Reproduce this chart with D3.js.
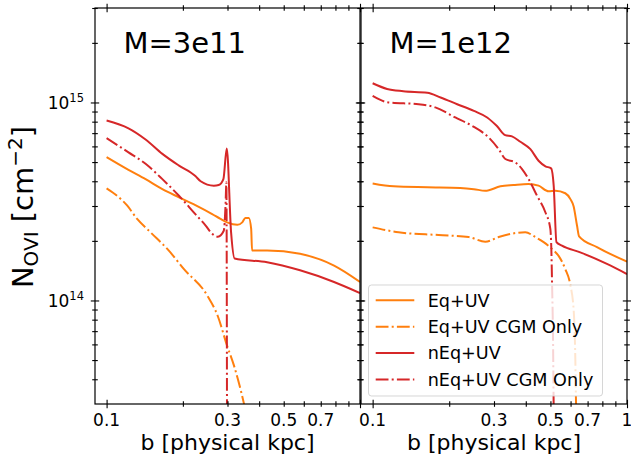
<!DOCTYPE html>
<html>
<head>
<meta charset="utf-8">
<script src="https://cdn.jsdelivr.net/npm/d3@7"></script>
<style>
body { margin: 0; background: #fff; }
svg { font-family: "DejaVu Sans", sans-serif; }
</style>
</head>
<body>
<svg id="chart" width="631" height="460"></svg>
<script>
/////////////////////////////////////////////////
///////////////////Data//////////////////////////
/////////////////////////////////////////////////

// M=3e11
var b_3e11_eq = [0.1, 0.122, 0.1425, 0.166, 0.193, 0.224, 0.261, 0.2815, 0.299, 0.328, 0.343, 0.353, 0.364, 0.372, 0.375, 0.43, 0.58, 0.79, 1.0];
var N_3e11_eq = [5.3e14, 4.57e14, 4.1e14, 3.65e14, 3.32e14, 3.03e14, 2.73e14, 2.58e14, 2.48e14, 2.41e14, 2.48e14, 2.61e14, 2.61e14, 2.30e14, 1.79e14, 1.79e14, 1.72e14, 1.5e14, 1.24e14];

var b_3e11_eq_cgm = [0.1, 0.1207, 0.132, 0.149, 0.175, 0.202, 0.2495, 0.275, 0.299, 0.318, 0.348, 0.355];
var N_3e11_eq_cgm = [3.68e14, 3.01e14, 2.58e14, 2.21e14, 1.8e14, 1.44e14, 1.06e14, 8.3e13, 5.9e13, 4.7e13, 3.03e13, 2.7e13];

var b_3e11_neq = [0.1, 0.122, 0.1425, 0.166, 0.193, 0.224, 0.235, 0.265, 0.277, 0.289, 0.298, 0.310, 0.320, 0.43, 0.58, 0.79, 1.0];
var N_3e11_neq = [8.1e14, 7.4e14, 6.5e14, 5.5e14, 4.8e14, 4.25e14, 4.0e14, 3.8e14, 3.83e14, 4.1e14, 5.86e14, 2.2e14, 1.63e14, 1.56e14, 1.42e14, 1.24e14, 1.09e14];

var b_3e11_neq_cgm = [0.1, 0.122, 0.1425, 0.166, 0.193, 0.224, 0.246, 0.261, 0.275, 0.290, 0.2946, 0.297, 0.299];
var N_3e11_neq_cgm = [6.6e14, 5.6e14, 4.9e14, 4.1e14, 3.38e14, 2.73e14, 2.39e14, 2.17e14, 2.1e14, 2.25e14, 3.0e14, 3.95e14, 1e13];

// M=1e12
var b_1e12_eq = [0.1, 0.121, 0.164, 0.221, 0.25, 0.277, 0.318, 0.358, 0.41, 0.449, 0.492, 0.523, 0.572, 0.599, 0.617, 0.636, 0.648, 0.762, 1.0];
var N_1e12_eq = [3.9e14, 3.77e14, 3.73e14, 3.70e14, 3.65e14, 3.58e14, 3.77e14, 3.83e14, 3.88e14, 3.80e14, 3.56e14, 3.58e14, 3.48e14, 3.25e14, 2.98e14, 2.39e14, 2.11e14, 1.86e14, 1.57e14];

var b_1e12_eq_cgm = [0.1, 0.1265, 0.1817, 0.2385, 0.2773, 0.313, 0.3639, 0.3983, 0.4361, 0.4701, 0.5073, 0.5384, 0.5721, 0.5986, 0.6168, 0.6263, 0.6303, 0.634];
var N_1e12_eq_cgm = [2.34e14, 2.21e14, 2.14e14, 2.09e14, 1.98e14, 2.09e14, 2.19e14, 2.21e14, 2.09e14, 1.97e14, 1.82e14, 1.68e14, 1.44e14, 1.2e14, 9e13, 5.1e13, 3.07e13, 2.5e13];

var b_1e12_neq = [0.1, 0.114, 0.132, 0.164, 0.185, 0.215, 0.25, 0.282, 0.308, 0.332, 0.353, 0.381, 0.417, 0.449, 0.478, 0.503, 0.515, 0.528, 0.555, 0.655, 0.834, 1.0];
var N_1e12_neq = [1.25e15, 1.17e15, 1.14e15, 1.12e15, 1.06e15, 9.8e14, 9.07e14, 8.4e14, 7.6e14, 6.84e14, 6.74e14, 6.33e14, 5.81e14, 5.08e14, 4.76e14, 4.65e14, 3.8e14, 1.97e14, 1.89e14, 1.75e14, 1.53e14, 1.36e14];

var b_1e12_neq_cgm = [0.1, 0.1156, 0.1516, 0.1764, 0.2114, 0.2459, 0.2858, 0.313, 0.3324, 0.3639, 0.3867, 0.4104, 0.4429, 0.4775, 0.4996, 0.5041, 0.5073, 0.5119, 0.5147, 0.517];
var N_1e12_neq_cgm = [1.08e15, 1.0e15, 9.8e14, 9.44e14, 8.4e14, 7.62e14, 6.66e14, 5.81e14, 5.18e14, 4.98e14, 4.61e14, 4.1e14, 3.38e14, 2.79e14, 2.3e14, 1.82e14, 1.24e14, 6.4e13, 3.06e13, 2e13];

var seriesLabels = ["Eq+UV", "Eq+UV CGM Only", "nEq+UV", "nEq+UV CGM Only"];
var panelTitles = ["M=3e11", "M=1e12"];

// ticks
var xMajorTicks = [0.1, 1];
var xMinorTicks = [0.2, 0.3, 0.4, 0.5, 0.6, 0.7, 0.8, 0.9];
var xTickLabels = [[0.1, 0.3, 0.5, 0.7], [0.1, 0.3, 0.5, 0.7, 1]];
var yMajorTicks = [1e14, 1e15];
var yMinorTicks = [4e13, 5e13, 6e13, 7e13, 8e13, 9e13, 2e14, 3e14, 4e14, 5e14, 6e14, 7e14, 8e14, 9e14, 2e15, 3e15];
var yTickExp = [14, 15];

/////////////////////////////////////////////////
///////////////////Chart/////////////////////////
/////////////////////////////////////////////////

var top0 = 8, bottom0 = 404;
var colors = ["#ff7f0e", "#ff7f0e", "#d62728", "#d62728"];
var dashes = [null, "12.8,3.2,2,3.2", null, "12.8,3.2,2,3.2"];

var panels = [
  {x0: 95, x1: 360, b: [b_3e11_eq, b_3e11_eq_cgm, b_3e11_neq, b_3e11_neq_cgm],
   N: [N_3e11_eq, N_3e11_eq_cgm, N_3e11_neq, N_3e11_neq_cgm]},
  {x0: 361, x1: 627, b: [b_1e12_eq, b_1e12_eq_cgm, b_1e12_neq, b_1e12_neq_cgm],
   N: [N_1e12_eq, N_1e12_eq_cgm, N_1e12_neq, N_1e12_neq_cgm]}
];

var svg = d3.select("#chart");

var y = d3.scaleLog()
.domain([3e13, 3e15])
.range([bottom0, top0]);

panels.forEach(function(p, pi) {
  var x = d3.scaleLog()
  .domain([0.09, 1])
  .range([p.x0, p.x1]);

  svg.append("clipPath")
  .attr("id", "clip" + pi)
  .append("rect")
  .attr("x", p.x0).attr("y", top0)
  .attr("width", p.x1 - p.x0).attr("height", bottom0 - top0);

  var line = d3.line()
  .curve(d3.curveMonotoneX)
  .x(function(d) { return x(d[0]); })
  .y(function(d) { return y(d[1]); });

  var g = svg.append("g").attr("clip-path", "url(#clip" + pi + ")");
  p.b.forEach(function(bs, si) {
    g.append("path")
    .attr("d", line(d3.zip(bs, p.N[si])))
    .attr("fill", "none")
    .attr("stroke", colors[si])
    .attr("stroke-width", 2)
    .attr("stroke-dasharray", dashes[si]);
  });

  // frame
  svg.append("rect")
  .attr("x", p.x0).attr("y", top0)
  .attr("width", p.x1 - p.x0).attr("height", bottom0 - top0)
  .attr("fill", "none")
  .attr("stroke", "#000")
  .attr("stroke-width", 1.2);

  // in-out ticks on all four sides
  function ticks(axis, pos, vals, len) {
    var ax = svg.append("g")
    .attr("transform", pos)
    .call(axis.tickValues(vals).tickSize(len).tickFormat(""));
    ax.select(".domain").remove();
    ax.selectAll(".tick line")
    .attr("stroke", "#000")
    .attr("stroke-width", 1.1);
    return ax;
  }
  [[xMajorTicks, 4.2], [xMinorTicks, 2.8]].forEach(function(t) {
    ticks(d3.axisBottom(x), "translate(0," + (bottom0 - t[1]) + ")", t[0], 2 * t[1]);
    ticks(d3.axisBottom(x), "translate(0," + (top0 - t[1]) + ")", t[0], 2 * t[1]);
  });
  [[yMajorTicks, 4.2], [yMinorTicks, 2.8]].forEach(function(t) {
    ticks(d3.axisRight(y), "translate(" + (p.x0 - t[1]) + ",0)", t[0], 2 * t[1]);
    ticks(d3.axisRight(y), "translate(" + (p.x1 - t[1]) + ",0)", t[0], 2 * t[1]);
  });

  // x tick labels
  svg.append("g").selectAll("text")
  .data(xTickLabels[pi])
  .enter()
  .append("text")
  .attr("x", function(d) { return x(d); })
  .attr("y", 426)
  .attr("text-anchor", "middle")
  .style("font-size", "17px")
  .text(function(d) { return d; });

  // y tick labels (left panel only)
  if (pi === 0) {
    var yl = svg.append("g").selectAll("text")
    .data(yMajorTicks)
    .enter()
    .append("text")
    .attr("x", 84)
    .attr("y", function(d) { return y(d) + 6.7; })
    .attr("text-anchor", "end")
    .style("font-size", "17px");
    yl.append("tspan").text("10");
    yl.append("tspan")
    .attr("dy", -6.7)
    .style("font-size", "11.5px")
    .text(function(d, i) { return yTickExp[i]; });
  }

  // x axis label
  svg.append("text")
  .attr("x", (p.x0 + p.x1) / 2)
  .attr("y", 450)
  .attr("text-anchor", "middle")
  .style("font-size", "22px")
  .text("b [physical kpc]");

  // panel title
  svg.append("text")
  .attr("x", p.x0 + 28.5)
  .attr("y", 52.5)
  .style("font-size", "29px")
  .text(panelTitles[pi]);
});

// y axis label
var ylab = svg.append("text")
.attr("transform", "translate(33,207) rotate(-90)")
.attr("text-anchor", "middle")
.style("font-size", "29px");
ylab.append("tspan").text("N");
ylab.append("tspan").attr("dy", 4.5).style("font-size", "20px").text("OVI");
ylab.append("tspan").attr("dy", -4.5).text(" [cm");
ylab.append("tspan").attr("dy", -11).style("font-size", "20px").text("\u22122");
ylab.append("tspan").attr("dy", 11).text("]");

/////////////////////////////////////////////////
///////////////////Legend////////////////////////
/////////////////////////////////////////////////

var legend = svg.append("g");
legend.append("rect")
.attr("x", 368.5).attr("y", 285)
.attr("width", 234).attr("height", 111)
.attr("rx", 3).attr("ry", 3)
.attr("fill", "#fff")
.attr("fill-opacity", 0.8)
.attr("stroke", "#ccc")
.attr("stroke-opacity", 0.8);

var rows = legend.selectAll(".row")
.data(seriesLabels)
.enter()
.append("g")
.attr("transform", function(d, i) { return "translate(0," + (300.3 + i * 26.4) + ")"; });

rows.append("line")
.attr("x1", 375.7).attr("x2", 414.3)
.attr("stroke", function(d, i) { return colors[i]; })
.attr("stroke-width", 2)
.attr("stroke-dasharray", function(d, i) { return dashes[i]; });

rows.append("text")
.attr("x", 427.7)
.attr("y", 6.3)
.style("font-size", "17.6px")
.text(function(d) { return d; });
</script>
</body>
</html>
